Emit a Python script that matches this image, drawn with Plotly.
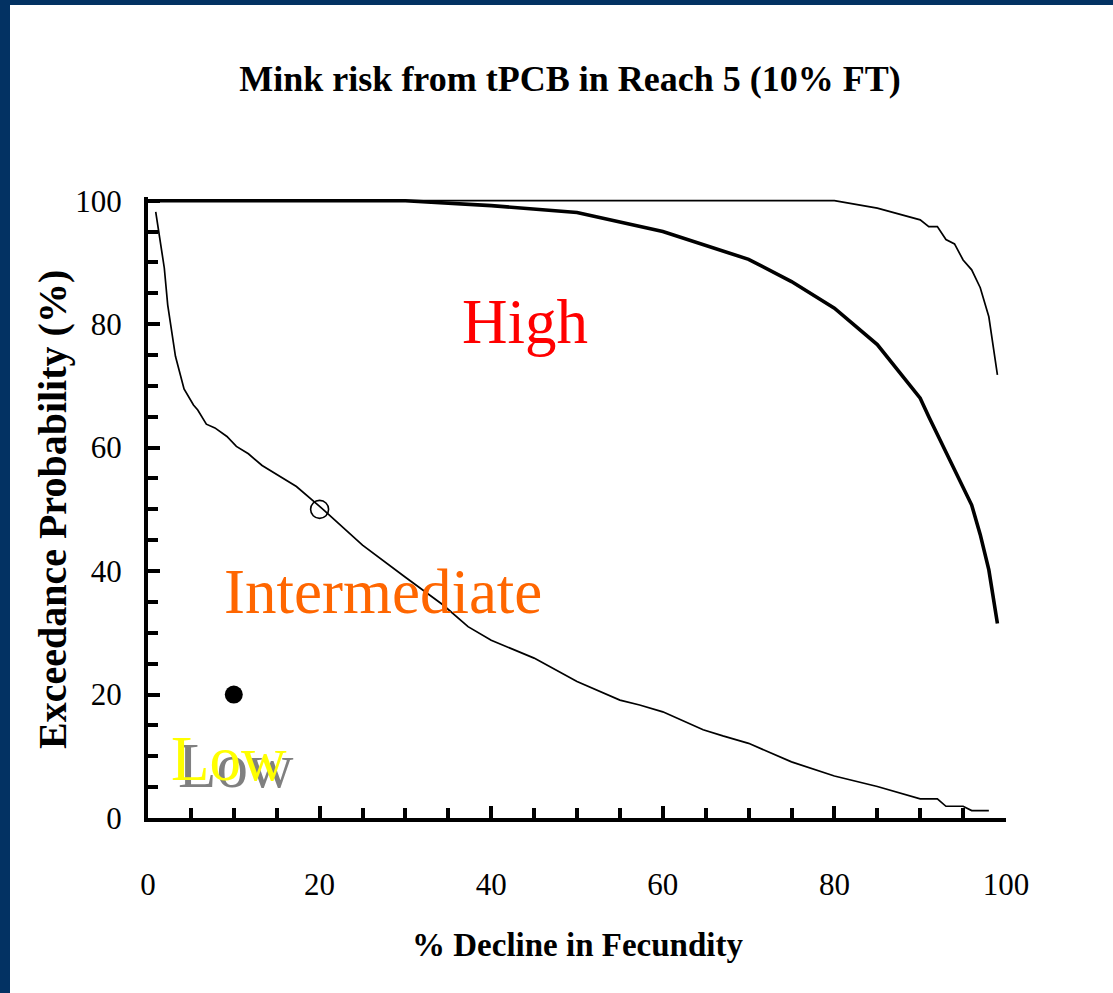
import plotly.graph_objects as go

# ---------------- data ----------------
lower_x = [0.9, 1.9, 2.3, 3.2, 4.2, 5.3, 5.8, 6.8, 7.8, 9.2, 10.3, 11.7, 13.3, 15.4,
           17.3, 20, 25, 30, 34.4, 37.3, 40, 45, 50, 55, 57.3, 60, 64.7, 67, 70, 75,
           80, 85, 86.5, 88, 90, 92, 93, 95, 96, 98]
lower_y = [98.2, 89.1, 83.1, 74.8, 69.5, 66.9, 66.1, 63.8, 63.2, 61.8, 60.2, 59.0, 57.1, 55.3,
           53.7, 50.5, 44.2, 39.0, 34.5, 31.0, 28.8, 25.9, 22.1, 19.1, 18.3, 17.2, 14.3, 13.3, 12.1, 9.1,
           6.8, 5.1, 4.5, 3.8, 3.1, 3.1, 1.9, 1.9, 1.2, 1.2]

mid_x = [1, 30, 40, 45, 50, 60, 70, 75, 80, 85, 90, 91, 93, 94.6, 96, 97, 98, 99]
mid_y = [100, 100, 99.2, 98.7, 98.1, 95.0, 90.5, 86.9, 82.6, 76.7, 68.0, 65.0, 59.3, 54.8, 50.7, 45.9, 40.2, 31.5]

upper_x = [1, 80, 85, 90, 91, 92, 93, 94, 95, 96, 97, 98, 99]
upper_y = [100, 100, 98.8, 96.9, 95.8, 95.8, 93.7, 93.0, 90.4, 88.8, 85.9, 81.2, 71.8]

open_pt_x = [20]
open_pt_y = [50]
filled_pt_x = [10]
filled_pt_y = [20]

title_text = "Mink risk from tPCB in Reach 5 (10% FT)"
x_title = "% Decline in Fecundity"
y_title = "Exceedance Probability (%)"
zone_labels = ["High", "Intermediate", "Low"]
zone_pos_x = [43.9, 27.4, 9.4]
zone_pos_y = [80.4, 36.6, 9.6]

# ---------------- layout constants ----------------
W, H = 1113, 993
L, R, T, B = 148, 107, 197, 175
PW, PH = W - L - R, H - T - B
FONT = "Liberation Serif, Times New Roman, serif"
NAVY = "#033263"


def xp(px):
    return (px - L) / PW


def yp(py):
    return (H - B - py) / PH


fig = go.Figure()
fig.add_trace(go.Scatter(x=lower_x, y=lower_y, mode="lines",
                         line=dict(color="black", width=1.7), showlegend=False))
fig.add_trace(go.Scatter(x=mid_x, y=mid_y, mode="lines",
                         line=dict(color="black", width=3.6), showlegend=False))
fig.add_trace(go.Scatter(x=upper_x, y=upper_y, mode="lines",
                         line=dict(color="black", width=1.7), showlegend=False))
fig.add_trace(go.Scatter(x=open_pt_x, y=open_pt_y, mode="markers",
                         marker=dict(symbol="circle-open", size=18, color="black",
                                     line=dict(width=1.6, color="black")),
                         showlegend=False))
fig.add_trace(go.Scatter(x=filled_pt_x, y=filled_pt_y, mode="markers",
                         marker=dict(symbol="circle", size=18, color="black"),
                         showlegend=False))

zone_colors = ["#FF0000", "#FF6600", "#FFFF00"]
zone_shadows = ["none", "none", "7px 7px 0px #808080"]
annotations = []
for lab, x, y, c, sh in zip(zone_labels, zone_pos_x, zone_pos_y, zone_colors, zone_shadows):
    annotations.append(dict(x=x, y=y, xref="x", yref="y", text=lab, showarrow=False,
                            font=dict(family=FONT, size=63, color=c, shadow=sh)))

annotations.append(dict(x=xp(577), y=yp(945), xref="paper", yref="paper",
                        text="<b>" + x_title + "</b>", showarrow=False,
                        xanchor="center", yanchor="middle",
                        font=dict(family=FONT, size=33, color="black")))
annotations.append(dict(x=xp(52), y=yp(510), xref="paper", yref="paper",
                        text="<b>" + y_title + "</b>", showarrow=False, textangle=-90,
                        xanchor="center", yanchor="middle",
                        font=dict(family=FONT, size=40, color="black")))

shapes = [
    dict(type="rect", xref="paper", yref="paper", x0=xp(0), x1=xp(10), y0=yp(H), y1=yp(0),
         fillcolor=NAVY, line=dict(width=0), layer="above"),
    dict(type="rect", xref="paper", yref="paper", x0=xp(0), x1=xp(W), y0=yp(5), y1=yp(0),
         fillcolor=NAVY, line=dict(width=0), layer="above"),
]

axis_common = dict(
    showgrid=False, zeroline=False, showline=True, linecolor="black", linewidth=4,
    ticks="inside", ticklen=12, tickwidth=3.5, tickcolor="black",
    tickfont=dict(family=FONT, size=31, color="black"),
    minor=dict(ticks="inside", ticklen=10, tickwidth=3.5, tickcolor="black", dtick=5, showgrid=False),
    dtick=20, tick0=0,
)

fig.update_xaxes(range=[0, 100], ticklabelstandoff=36, **axis_common)
fig.update_yaxes(range=[0, 100.6], ticklabelstandoff=16, **axis_common)

fig.update_layout(
    width=W, height=H,
    margin=dict(l=L, r=R, t=T, b=B, autoexpand=False),
    paper_bgcolor="white", plot_bgcolor="white",
    title=dict(text="<b>" + title_text + "</b>", x=570 / W, xref="container", xanchor="center",
               y=1 - 78 / H, yref="container", yanchor="middle",
               font=dict(family=FONT, size=36, color="black")),
    annotations=annotations, shapes=shapes, showlegend=False,
)

fig.write_html("out.html")
